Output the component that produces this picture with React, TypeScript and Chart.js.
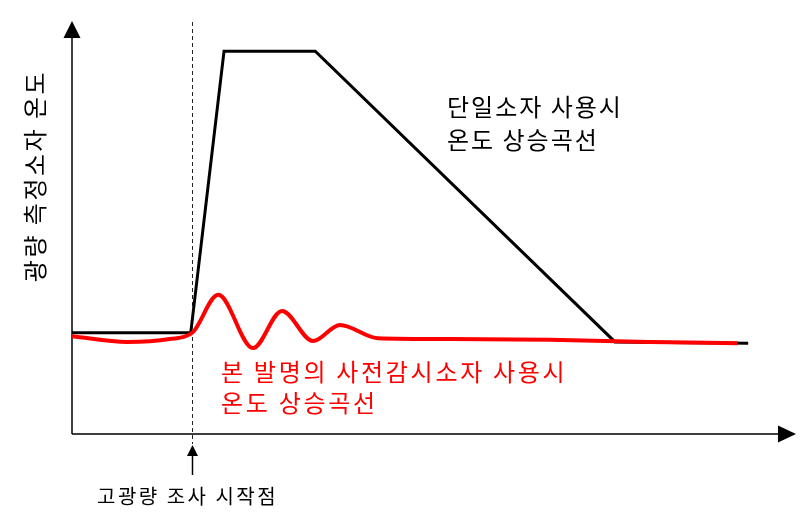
import React, { useEffect, useRef } from "react";
import { Chart, registerables } from "chart.js";

Chart.register(...registerables);

// Schematic units: time 0..100, temperature 0..100
const singleTime = [0, 16.4, 21.0, 33.6, 75.0, 93.4];
const singleTemp = [24.5, 24.5, 92.7, 92.7, 22.3, 22.0];

const inventionTime = [0, 7.6, 13.5, 16.6, 20.2, 25.0, 29.0, 33.3, 37.0, 42.2, 52.2, 66.0, 79.8, 91.9];
const inventionTemp = [23.7, 22.3, 23.0, 24.5, 33.7, 20.8, 29.8, 22.5, 26.4, 23.2, 23.0, 22.8, 22.3, 22.0];

const startTime = 16.6;

const yTitle = "광량 측정소자 온도";
const singleLabel = ["단일소자 사용시", "온도 상승곡선"];
const inventionLabel = ["본 발명의 사전감시소자 사용시", "온도 상승곡선"];
const startLabel = "고광량 조사 시작점";

const FONT = '"Noto Sans CJK KR", "Noto Sans", sans-serif';

const decorPlugin = {
  id: "decor",
  beforeDatasetsDraw(chart: any) {
    const { ctx, chartArea, scales } = chart;
    const { left, right, top, bottom } = chartArea;
    const xs = scales.x;
    ctx.save();
    ctx.strokeStyle = "#000";
    ctx.fillStyle = "#000";
    ctx.lineWidth = 1.5;
    ctx.beginPath();
    ctx.moveTo(left, bottom);
    ctx.lineTo(left, top + 14);
    ctx.moveTo(left, bottom);
    ctx.lineTo(right - 14, bottom);
    ctx.stroke();
    ctx.beginPath();
    ctx.moveTo(left, top);
    ctx.lineTo(left - 8.5, top + 17);
    ctx.lineTo(left + 8.5, top + 17);
    ctx.closePath();
    ctx.fill();
    ctx.beginPath();
    ctx.moveTo(right, bottom);
    ctx.lineTo(right - 18, bottom - 8.5);
    ctx.lineTo(right - 18, bottom + 8.5);
    ctx.closePath();
    ctx.fill();

    const sx = Math.round(xs.getPixelForValue(startTime)) + 0.5;
    ctx.lineWidth = 1;
    ctx.strokeStyle = "#222";
    ctx.setLineDash([4, 3]);
    ctx.beginPath();
    ctx.moveTo(sx, top + 1);
    ctx.lineTo(sx, bottom + 10);
    ctx.stroke();
    ctx.setLineDash([]);

    ctx.strokeStyle = "#000";
    ctx.lineWidth = 1.5;
    ctx.beginPath();
    ctx.moveTo(sx, bottom + 20);
    ctx.lineTo(sx, bottom + 41);
    ctx.stroke();
    ctx.beginPath();
    ctx.moveTo(sx, bottom + 11);
    ctx.lineTo(sx - 5.5, bottom + 22);
    ctx.lineTo(sx + 5.5, bottom + 22);
    ctx.closePath();
    ctx.fill();
    ctx.restore();
  },
  afterDatasetsDraw(chart: any) {
    const { ctx } = chart;
    ctx.save();
    ctx.textBaseline = "middle";
    ctx.save();
    ctx.translate(35, 176);
    ctx.rotate(-Math.PI / 2);
    ctx.textAlign = "center";
    ctx.fillStyle = "#000";
    ctx.font = `24px ${FONT}`;
    (ctx as any).letterSpacing = "2.5px";
    ctx.fillText(yTitle, 0, 0);
    ctx.restore();

    ctx.textAlign = "left";
    ctx.fillStyle = "#000";
    ctx.font = `24px ${FONT}`;
    (ctx as any).letterSpacing = "2px";
    ctx.fillText(singleLabel[0], 447, 107);
    ctx.fillText(singleLabel[1], 447, 140);

    ctx.fillStyle = "#ff0000";
    (ctx as any).letterSpacing = "2.7px";
    ctx.fillText(inventionLabel[0], 221, 372);
    ctx.fillText(inventionLabel[1], 221, 403);

    ctx.fillStyle = "#000";
    ctx.font = `20px ${FONT}`;
    (ctx as any).letterSpacing = "2.5px";
    ctx.textAlign = "left";
    ctx.fillText(startLabel, 97, 496);
    ctx.restore();
  },
};

export default function App() {
  const ref = useRef<HTMLCanvasElement>(null);
  useEffect(() => {
    document.body.style.margin = "0";
    const chart = new Chart(ref.current!, {
      type: "line",
      data: {
        datasets: [
          {
            label: "invention",
            data: inventionTime.map((x, i) => ({ x, y: inventionTemp[i] })),
            borderColor: "#ff0000",
            borderWidth: 4,
            pointRadius: 0,
            cubicInterpolationMode: "monotone",
            order: 0,
          },
          {
            label: "single",
            data: singleTime.map((x, i) => ({ x, y: singleTemp[i] })),
            borderColor: "#000",
            borderWidth: 3,
            pointRadius: 0,
            tension: 0,
            borderJoinStyle: "miter",
            order: 1,
          },
        ],
      },
      options: {
        responsive: false,
        animation: false,
        layout: { padding: { left: 72, right: 16, top: 21, bottom: 80 } },
        plugins: { legend: { display: false }, tooltip: { enabled: false } },
        scales: {
          x: { type: "linear", min: 0, max: 100, display: false },
          y: { type: "linear", min: 0, max: 100, display: false },
        },
      },
      plugins: [decorPlugin],
    });
    return () => chart.destroy();
  }, []);
  return (
    <div style={{ width: 812, height: 514, background: "#fff" }}>
      <canvas ref={ref} width={812} height={514} />
    </div>
  );
}
